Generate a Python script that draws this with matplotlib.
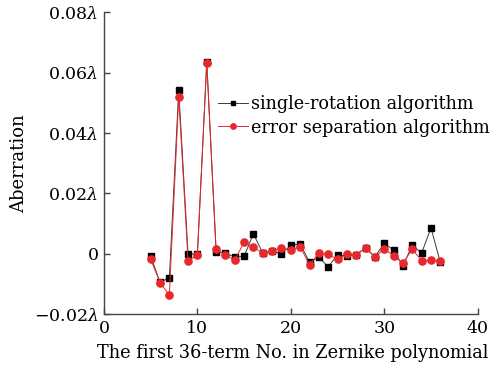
import matplotlib
matplotlib.use("Agg")
import matplotlib.pyplot as plt
from matplotlib.ticker import FixedLocator, FixedFormatter

plt.rcParams['font.family'] = ['DejaVu Serif']
plt.rcParams['mathtext.fontset'] = 'dejavuserif'

terms = list(range(5, 37))
single_rotation = [-0.0008, -0.0095, -0.0080, 0.0543, -0.0002, 0.0000, 0.0637, 0.0005,
                   0.0003, -0.0012, -0.0008, 0.0066, 0.0001, 0.0009, -0.0001, 0.0028,
                   0.0032, -0.0028, -0.0012, -0.0043, -0.0004, -0.0007, -0.0003, 0.0019,
                   -0.0010, 0.0034, 0.0012, -0.0041, 0.0029, 0.0002, 0.0086, -0.0029]
error_separation = [-0.0019, -0.0096, -0.0137, 0.0519, -0.0024, -0.0004, 0.0633, 0.0015,
                    -0.0005, -0.0021, 0.0038, 0.0021, 0.0002, 0.0009, 0.0018, 0.0012,
                    0.0023, -0.0037, 0.0001, -0.0002, -0.0019, -0.0002, -0.0003, 0.0019,
                    -0.0010, 0.0015, -0.0007, -0.0032, 0.0016, -0.0025, -0.0021, -0.0025]
yticks = [-0.02, 0, 0.02, 0.04, 0.06, 0.08]
yticklabels = ['\u22120.02$\\lambda$', '0', '0.02$\\lambda$', '0.04$\\lambda$', '0.06$\\lambda$', '0.08$\\lambda$']
xticks = [0, 10, 20, 30, 40]
xticklabels = ['0', '10', '20', '30', '40']

fig = plt.figure(figsize=(4.94, 3.67), dpi=100)
ax = fig.add_axes([0.2105, 0.1444, 0.967 - 0.2105, 0.966 - 0.1444])

ax.plot(terms, single_rotation, color='#3a3a3a', lw=0.7, marker='s', ms=4.5,
        mfc='black', mec='black', label='single-rotation algorithm', zorder=2)
ax.plot(terms, error_separation, color='#e8282c', lw=0.7, marker='o', ms=5.2,
        mfc='#e8282c', mec='#e8282c', label='error separation algorithm', zorder=3)

ax.set_xlim(0, 40)
ax.set_ylim(-0.02, 0.08)
ax.xaxis.set_major_locator(FixedLocator(xticks))
ax.xaxis.set_major_formatter(FixedFormatter(xticklabels))
ax.yaxis.set_major_locator(FixedLocator(yticks))
ax.yaxis.set_major_formatter(FixedFormatter(yticklabels))

for s in ['top', 'right']:
    ax.spines[s].set_visible(False)
for s in ['left', 'bottom']:
    ax.spines[s].set_color('#444444')
    ax.spines[s].set_linewidth(1.0)
ax.tick_params(direction='in', length=4, width=1.0, color='#444444', labelsize=12.5, pad=4)

ax.set_xlabel('The first 36-term No. in Zernike polynomial', fontsize=12.8)
ax.xaxis.set_label_coords(0.506, -0.098)
ax.set_ylabel('Aberration', fontsize=13, labelpad=4)

ax.legend(loc='upper left', bbox_to_anchor=(0.285, 0.75), frameon=False, fontsize=12.7,
          handlelength=1.7, handletextpad=0.2, borderaxespad=0, labelspacing=0.32,
          markerscale=0.75)

fig.savefig('out.png', dpi=100)
